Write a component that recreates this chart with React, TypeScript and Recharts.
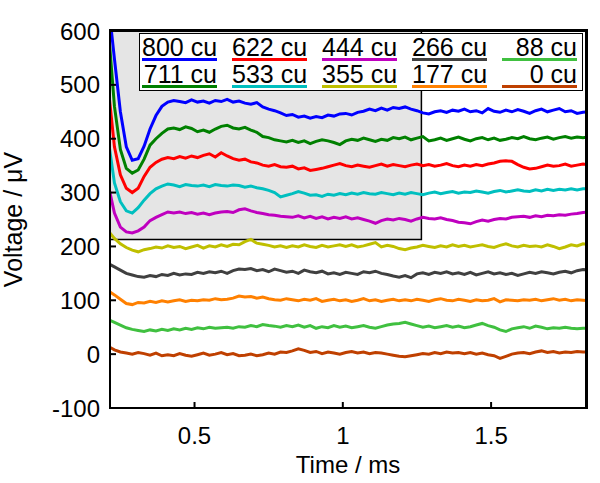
import { LineChart, Line, XAxis, YAxis, ReferenceArea, Label } from 'recharts'

// sample times in ms
const times = [
  0.21, 0.23, 0.25, 0.27, 0.29, 0.31, 0.33, 0.35, 0.37, 0.39,
  0.41, 0.43, 0.45, 0.47, 0.49, 0.51, 0.53, 0.55, 0.57, 0.59,
  0.61, 0.63, 0.65, 0.67, 0.69, 0.71, 0.73, 0.75, 0.77, 0.79,
  0.81, 0.83, 0.85, 0.87, 0.89, 0.91, 0.93, 0.95, 0.97, 0.99,
  1.01, 1.03, 1.05, 1.07, 1.09, 1.11, 1.13, 1.15, 1.17, 1.19,
  1.21, 1.23, 1.25, 1.27, 1.29, 1.31, 1.33, 1.35, 1.37, 1.39,
  1.41, 1.43, 1.45, 1.47, 1.49, 1.51, 1.53, 1.55, 1.57, 1.59,
  1.61, 1.63, 1.65, 1.67, 1.69, 1.71, 1.73, 1.75, 1.77, 1.79,
  1.81, 1.83
]

// voltages in µV, one array per concentration
const cu800 = [
  650, 548, 450, 385, 360, 363, 386, 418, 443, 460,
  468, 471, 469, 467, 472, 468, 470, 466, 471, 469,
  473, 468, 470, 466, 464, 467, 459, 455, 452, 448,
  443, 445, 440, 442, 438, 441, 439, 444, 442, 446,
  447, 444, 449, 451, 455, 452, 457, 453, 458, 456,
  459, 455, 452, 448, 446, 450, 452, 449, 453, 451,
  455, 450, 452, 448, 456, 451, 449, 453, 450, 454,
  451, 447, 452, 455, 450, 453, 456, 450, 452, 447,
  449, 450
]
const cu711 = [
  600, 460, 380, 345, 336, 342, 362, 388, 400, 410,
  418, 420, 417, 422, 419, 413, 416, 412, 418, 423,
  425, 420, 418, 421, 416, 412, 404, 402, 398, 396,
  394, 397, 393, 396, 391, 395, 398, 396, 393, 389,
  396, 399, 397, 401, 398, 395, 399, 397, 402, 400,
  403, 398, 401, 404, 396, 398, 401, 397, 400, 403,
  399, 396, 400, 402, 398, 401, 397, 399, 402, 400,
  404, 400, 398, 401, 403, 399, 402, 404, 401, 403,
  402, 403
]
const cu622 = [
  490, 385, 333, 308, 300, 308, 330, 347, 356, 362,
  365, 363, 367, 364, 368, 365, 369, 372, 366, 374,
  368, 363, 360, 362, 357, 355, 351, 349, 352, 348,
  347, 349, 344, 346, 341, 343, 345, 348, 351, 354,
  350, 348, 351, 349, 347, 350, 353, 349, 352, 350,
  348, 351, 353, 350, 352, 349, 351, 354, 350, 348,
  351, 349, 352, 350, 353, 355, 358, 359, 358, 352,
  347, 344, 345, 348, 351, 349, 350, 353, 349, 351,
  353, 351
]
const cu533 = [
  395, 318, 283, 266, 262, 272, 286, 298, 307, 312,
  316, 314, 311, 315, 313, 312, 314, 311, 315, 313,
  312, 314, 313, 310, 312, 309, 307, 304, 300, 292,
  295, 298, 302, 299, 295, 296, 293, 297, 295, 298,
  296, 299, 297, 300, 298, 297, 300, 298, 296, 299,
  297, 300, 298, 296, 299, 301, 298, 300, 302, 299,
  301, 300, 303, 301, 299, 302, 304, 301, 303, 305,
  303, 302, 305, 303, 306, 304, 306, 305, 307, 305,
  307, 307
]
const cu444 = [
  312, 262, 236, 227, 225, 229, 236, 248, 254, 259,
  264, 262, 264, 261, 263, 260, 262, 259, 262, 264,
  265, 263, 268, 270, 266, 263, 261, 259, 258, 256,
  255, 254, 257, 253, 256, 252, 255, 251, 254, 252,
  255, 251, 253, 250, 247, 243, 248, 251, 249, 252,
  250, 247, 251, 254, 252, 251, 253, 250, 248, 245,
  244, 242, 246, 249, 247, 250, 252, 251, 254, 255,
  256, 254, 257, 255, 258, 257, 259, 258, 260, 261,
  263, 264
]
const cu355 = [
  228, 215, 205, 198, 193, 190, 194, 196, 199, 197,
  201, 198, 200, 196, 199, 202, 197, 201, 199, 203,
  200, 204, 203, 209, 213, 206, 204, 202, 199, 201,
  198, 201, 199, 203, 200, 198, 202, 199, 201, 203,
  200, 203, 199, 201, 204, 207, 199, 202, 200, 196,
  194, 197, 199, 202, 200, 198, 201, 199, 203, 200,
  202, 199, 201, 203, 200, 198, 202, 205, 201, 199,
  202, 200, 201, 199, 203, 200, 196, 199, 203, 201,
  205, 203
]
const cu266 = [
  168, 162, 156, 150, 147, 144, 143, 146, 144, 148,
  146, 150, 147, 149, 148, 152, 150, 153, 151, 154,
  150, 155, 158, 157, 159, 155, 157, 153, 158, 155,
  152, 154, 150, 156, 153, 151, 154, 149, 151, 148,
  152, 150, 148, 153, 151, 154, 150, 148, 145, 143,
  146, 142, 149, 151, 148, 152, 150, 153, 149, 151,
  148, 152, 147, 150, 153, 149, 151, 148, 150, 146,
  149, 152, 150, 153, 151, 149, 152, 154, 151, 155,
  157, 156
]
const cu177 = [
  117, 110, 102, 94, 92, 96, 95, 98, 96, 99,
  97, 99, 101, 98, 100, 99, 101, 100, 103, 101,
  102, 104, 108, 106, 107, 104, 106, 103, 101, 100,
  103, 101, 99, 102, 100, 103, 98, 100, 102, 99,
  101, 98, 100, 103, 99, 101, 98, 100, 102, 99,
  101, 99, 102, 100, 98, 101, 103, 100, 99, 102,
  100, 98, 101, 99, 100, 103, 97, 101, 100, 99,
  101, 100, 102, 99, 101, 103, 100, 102, 99, 101,
  100, 99
]
const cu88 = [
  64, 59, 54, 49, 46, 44, 42, 45, 43, 46,
  44, 47, 45, 48, 46, 49, 47, 50, 48, 49,
  50, 48, 51, 50, 53, 51, 55, 53, 52, 50,
  53, 51, 54, 50, 53, 48, 51, 49, 53, 50,
  52, 49, 51, 53, 50, 48, 51, 54, 56, 57,
  59, 56, 53, 50, 52, 49, 51, 53, 50, 52,
  49, 51, 54, 57, 53, 50, 45, 42, 47, 49,
  51, 48, 52, 50, 47, 49, 48, 50, 48, 47,
  48, 48
]
const cu0 = [
  14, 8, 4, 2, 0, 3, 1, -2, 2, -3,
  -1, -3, 1, -2, -4, -1, 2, -2, 0, 3,
  -1, 1, -3, -2, 0, -3, -1, 2, 0, 4,
  3, 6, 10, 7, 3, 5, 1, 4, 2, 0,
  3, 5, 2, 4, 1, 3, 2, 0, -2, -4,
  -5, -3, -1, 1, 0, 3, 1, 4, 2, 3,
  1, 3, 0, 2, -1, -3, -8, -4, 0, 2,
  3, 1, 4, 6, 3, 5, 2, 4, 3, 5,
  4, 4
]

const seriesNames = ['800', '711', '622', '533', '444', '355', '266', '177', '88', '0']
const seriesValues = [cu800, cu711, cu622, cu533, cu444, cu355, cu266, cu177, cu88, cu0]
const seriesColors = [
  '#0000ff', '#008000', '#ff0000', '#00bfbf', '#bf00bf',
  '#bfbf00', '#404040', '#ff8000', '#40c040', '#bf4000'
]

const xTicks = [0.5, 1, 1.5]
const yTicks = [-100, 0, 100, 200, 300, 400, 500, 600]
const xDomain = [0.215, 1.82]
const yDomain = [-100, 600]
// shaded window (ms, µV)
const shadeX = [0.215, 1.265]
const shadeY = [213, 600]

const data = times.map((t, i) => {
  const row: Record<string, number> = { t }
  seriesNames.forEach((name, k) => {
    row['s' + name] = seriesValues[k][i]
  })
  return row
})

const font = '"Liberation Sans", Arial, Helvetica, sans-serif'
const tickStyle = { fill: '#000', fontSize: 24, fontFamily: font }
const frameLine = { stroke: '#000', strokeWidth: 2 }

// chart box in page pixels
const W = 600
const H = 483
const M = { top: 30, right: 13, bottom: 0, left: 0 }
const Y_AXIS_W = 110
const X_AXIS_H = 75

// legend box, laid out column by column like the original
const LegendBox = () => (
  <div
    style={{
      position: 'absolute',
      left: 139,
      top: 33,
      display: 'grid',
      gridTemplateColumns: 'repeat(5, 75px)',
      gridTemplateRows: 'repeat(2, 25px)',
      gridAutoFlow: 'column',
      columnGap: 15,
      rowGap: 2,
      padding: '2px 0 2px 2px',
      border: '1.5px solid #000',
      background: '#fff',
      width: 444,
      height: 58,
      boxSizing: 'border-box'
    }}
  >
    {seriesNames.map((name, k) => (
      <div
        key={name}
        style={{
          fontFamily: font,
          fontSize: 25,
          lineHeight: '22px',
          height: 25,
          boxSizing: 'border-box',
          textAlign: 'right',
          whiteSpace: 'nowrap',
          color: '#000',
          borderBottom: `3px solid ${seriesColors[k]}`
        }}
      >
        {name} cu
      </div>
    ))}
  </div>
)

// plain box round the plot area
const Frame = () => (
  <div
    style={{
      position: 'absolute',
      left: M.left + Y_AXIS_W - 1,
      top: M.top - 1,
      width: W - M.right - M.left - Y_AXIS_W + 2,
      height: H - M.top - X_AXIS_H + 2,
      border: '2px solid #000',
      boxSizing: 'border-box',
      pointerEvents: 'none'
    }}
  />
)

export default function App() {
  return (
    <div style={{ position: 'absolute', left: 0, top: 0, width: W, height: H }}>
      <LineChart width={W} height={H} data={data} margin={M}>
        <ReferenceArea
          x1={shadeX[0]}
          x2={shadeX[1]}
          y1={shadeY[0]}
          y2={shadeY[1]}
          fill="#e5e5e5"
          fillOpacity={1}
          stroke="#000"
          strokeWidth={1.5}
        />
        <XAxis
          dataKey="t"
          type="number"
          domain={xDomain}
          allowDataOverflow
          ticks={xTicks}
          height={X_AXIS_H}
          tickSize={-6}
          tickMargin={25}
          tick={tickStyle}
          axisLine={frameLine}
          tickLine={frameLine}
        >
          <Label
            value="Time / ms"
            position="insideBottom"
            offset={10}
            style={{ fill: '#000', fontSize: 24, fontFamily: font }}
          />
        </XAxis>
        <XAxis
          xAxisId="top"
          orientation="top"
          type="number"
          domain={xDomain}
          allowDataOverflow
          ticks={xTicks}
          height={1}
          tickSize={-6}
          tick={false}
          axisLine={frameLine}
          tickLine={frameLine}
        />
        <YAxis
          type="number"
          domain={yDomain}
          allowDataOverflow
          ticks={yTicks}
          width={Y_AXIS_W}
          tickSize={-6}
          tickMargin={16}
          tick={tickStyle}
          axisLine={frameLine}
          tickLine={frameLine}
        >
          <Label
            value="Voltage / μV"
            angle={-90}
            position="insideLeft"
            offset={13}
            style={{ fill: '#000', fontSize: 25, fontFamily: font, textAnchor: 'middle' }}
          />
        </YAxis>
        <YAxis
          yAxisId="right"
          orientation="right"
          type="number"
          domain={yDomain}
          allowDataOverflow
          ticks={yTicks}
          width={1}
          tickSize={-6}
          tick={false}
          axisLine={frameLine}
          tickLine={frameLine}
        />
        {seriesNames.map((name, k) => (
          <Line
            key={name}
            dataKey={'s' + name}
            name={name + ' cu'}
            stroke={seriesColors[k]}
            strokeWidth={3}
            dot={false}
            type="linear"
            isAnimationActive={false}
          />
        ))}
      </LineChart>
      <Frame />
      <LegendBox />
    </div>
  )
}
